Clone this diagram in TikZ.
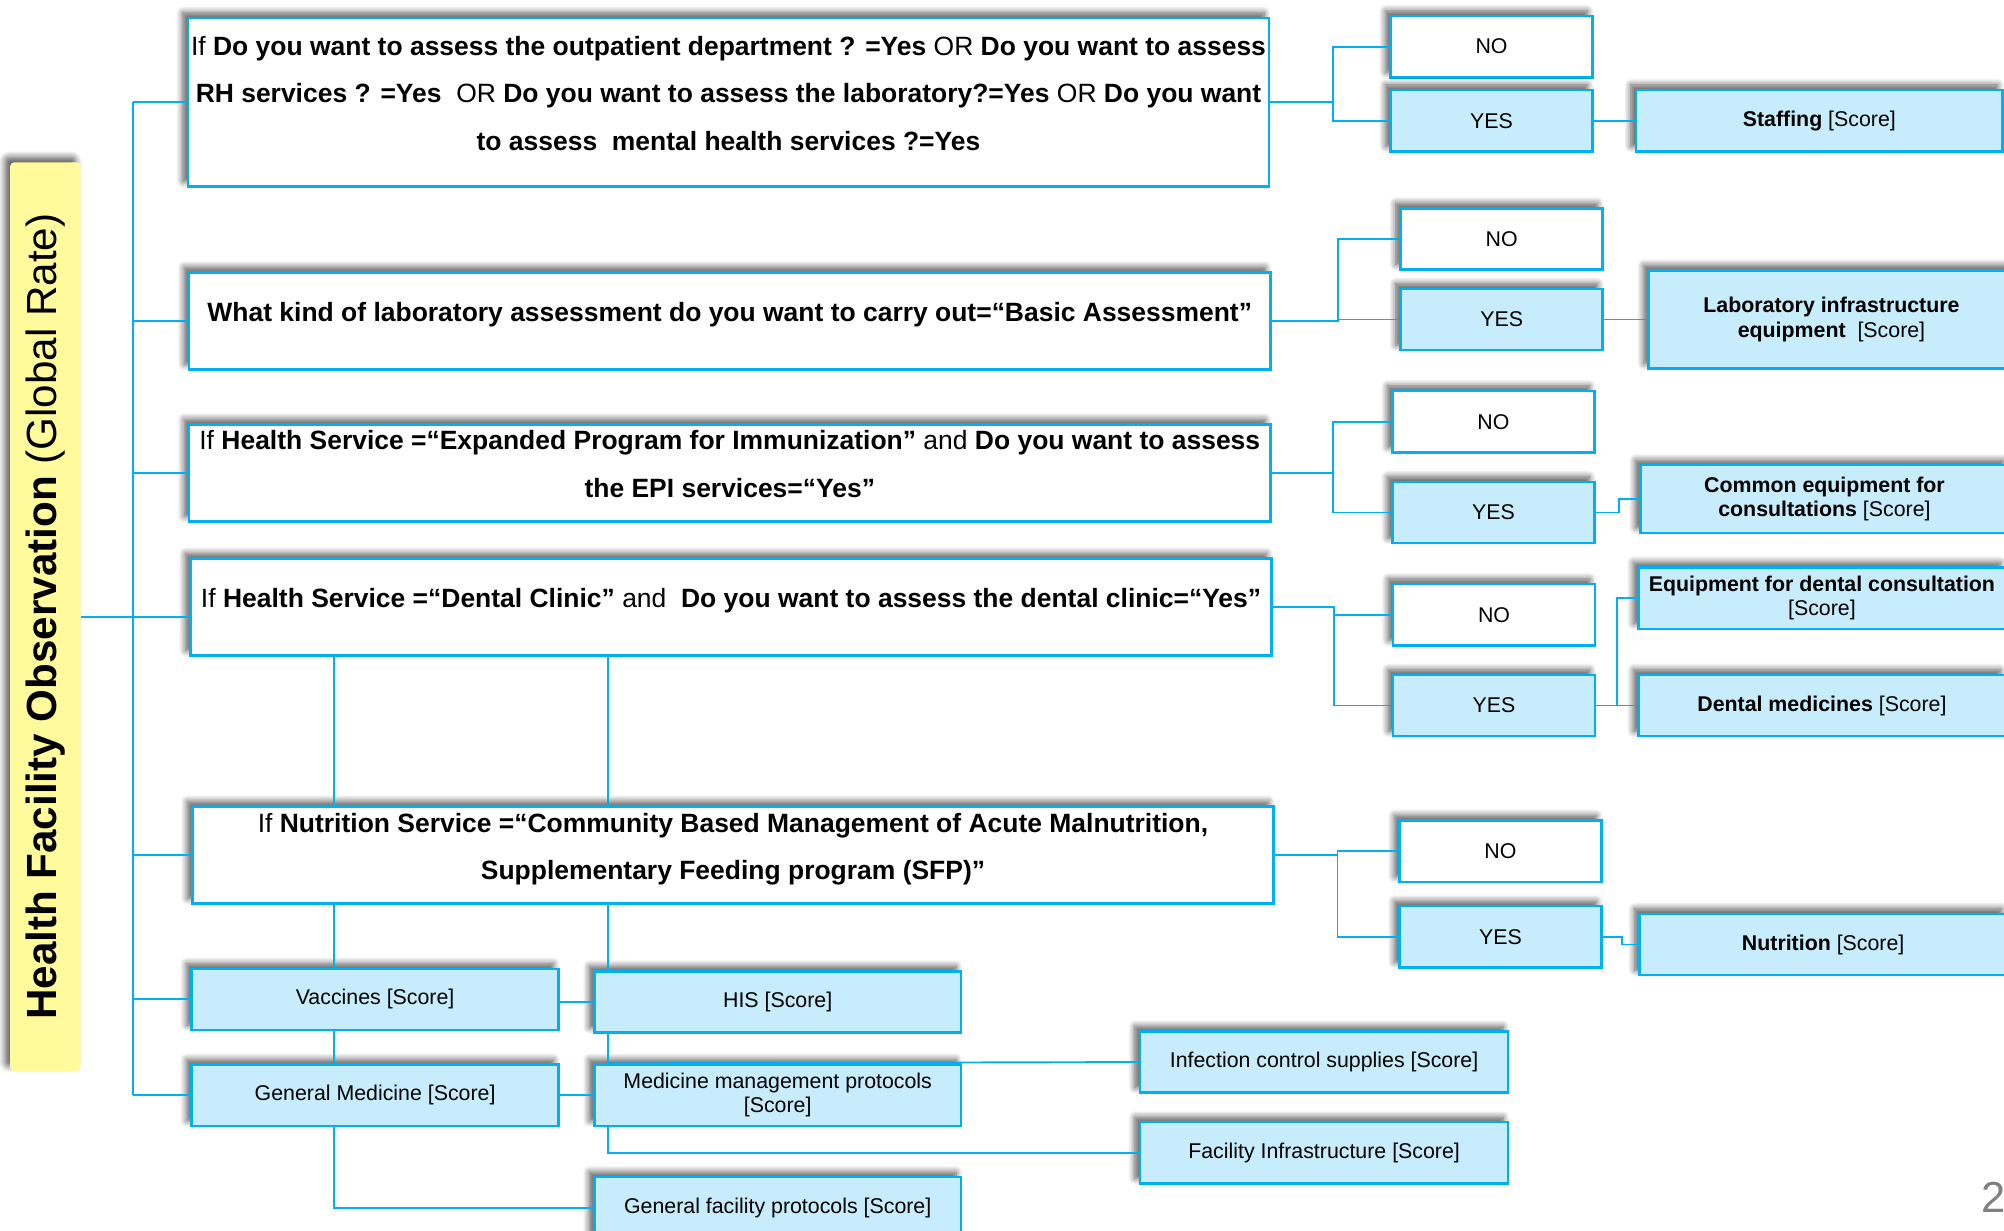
\documentclass[tikz,border=0pt]{standalone}
\usepackage{fontspec}
\setmainfont{Liberation Sans}
\usetikzlibrary{positioning,shadows.blur}

\definecolor{boxblue}{RGB}{0,176,240}
\definecolor{boxfill}{RGB}{199,236,251}
\definecolor{baryellow}{RGB}{255,250,155}
\definecolor{pagegray}{RGB}{128,128,128}

\tikzset{
  boxshadow/.style={blur shadow={shadow xshift=-4pt, shadow yshift=4pt, shadow blur radius=5pt, shadow blur steps=8, shadow opacity=65}},
  bar/.style={fill=baryellow, rounded corners=3pt, boxshadow, minimum width=55pt, minimum height=711pt, inner sep=0pt, font=\fontsize{33pt}{36pt}\selectfont},
  qbox/.style={draw=boxblue, line width=2pt, fill=white, boxshadow, minimum width=846pt, minimum height=76pt, inner sep=0pt, align=center, text depth=14pt, font=\fontsize{20.7pt}{37pt}\selectfont},
  ans/.style={draw=boxblue, line width=2pt, fill=white, boxshadow, minimum width=158pt, minimum height=48pt, inner sep=0pt, font=\fontsize{16.7pt}{19pt}\selectfont},
  yes/.style={ans, fill=boxfill},
  score/.style={yes, minimum width=287pt, align=center},
  link/.style={draw=boxblue, line width=1.5pt},
}

\begin{document}
\begin{tikzpicture}[x=1pt, y=-1pt]
  \useasboundingbox (0,0) rectangle (1568,963);

  % title bar
  \node[bar] (obs) at (35.5,482.5) {\rotatebox{90}{\textbf{Health Facility Observation} (Global Rate)}};

  % questions
  \node[qbox, minimum height=132pt] (q1) at (570,80) {If \textbf{Do you want to assess the outpatient department ? =Yes} OR \textbf{Do you want to assess}\\
    \textbf{RH services ? =Yes}~ OR \textbf{Do you want to assess the laboratory?=Yes} OR \textbf{Do you want}\\
    \textbf{to assess~ mental health services ?=Yes}};
  \node[qbox] (q2) at (571,251) {\textbf{What kind of laboratory assessment do you want to carry out=“Basic Assessment”}};
  \node[qbox] (q3) at (571,370) {If \textbf{Health Service =“Expanded Program for Immunization”} and \textbf{Do you want to assess}\\
    \textbf{the EPI services=“Yes”}};
  \node[qbox] (q4) at (572,475) {If \textbf{Health Service =“Dental Clinic”} and~ \textbf{Do you want to assess the dental clinic=“Yes”}};
  \node[qbox] (q5) at (573.5,669) {If \textbf{Nutrition Service =“Community Based Management of Acute Malnutrition,}\\
    \textbf{Supplementary Feeding program (SFP)”}};

  % answers
  \node[ans] (no1) at (1167,36.5) {NO};
  \node[yes, below=8pt of no1] (yes1) {YES};
  \node[ans] (no2) at (1175,187) {NO};
  \node[yes, below=13pt of no2] (yes2) {YES};
  \node[ans] (no3) at (1168.5,330) {NO};
  \node[yes, below=21pt of no3] (yes3) {YES};
  \node[ans] (no4) at (1169,481) {NO};
  \node[yes, below=21pt of no4] (yes4) {YES};
  \node[ans] (no5) at (1174,666) {NO};
  \node[yes, below=17pt of no5] (yes5) {YES};

  % scores on the right
  \node[score, right=32pt of yes1] (staff) {\textbf{Staffing} [Score]};
  \node[score, minimum width=286pt, minimum height=77pt, right=34pt of yes2] (labeq) {\textbf{Laboratory infrastructure}\\\textbf{equipment}~ [Score]};
  \node[score, minimum width=288pt, minimum height=53pt, right=34pt of yes3, yshift=10.5pt] (commeq) {\textbf{Common equipment for}\\\textbf{consultations} [Score]};
  \node[score, right=32pt of yes4] (dentmed) {\textbf{Dental medicines} [Score]};
  \node[score, above=34pt of dentmed] (denteq) {\textbf{Equipment for dental consultation}\\{}[Score]};
  \node[score, right=28pt of yes5, yshift=-6pt] (nutr) {\textbf{Nutrition} [Score]};

  % scores at the bottom
  \node[score] (vacc) at (293.5,782) {Vaccines [Score]};
  \node[score, right=26pt of vacc, yshift=-2pt] (his) {HIS [Score]};
  \node[score, below=25pt of vacc] (genmed) {General Medicine [Score]};
  \node[score, right=26pt of genmed] (medman) {Medicine management protocols\\{}[Score]};
  \node[score, below=38pt of medman] (genfac) {General facility protocols [Score]};
  \node[score, minimum width=288pt] (infect) at (1036,831) {Infection control supplies [Score]};
  \node[score, minimum width=288pt, below=21pt of infect] (facinf) {Facility Infrastructure [Score]};

  \node[anchor=west, inner sep=0pt, text=pagegray, font=\fontsize{34pt}{34pt}\selectfont] (page) at (1550,937) {2};

  % left trunk
  \coordinate (trunk) at (104,0);
  \draw[link] (q1.west -| trunk) -- (genmed.west -| trunk);
  \draw[link] (obs.east) -- (obs.east -| q4.west);
  \foreach \n in {q1,q2,q3,q5,vacc,genmed}
    \draw[link] (\n.west -| trunk) -- (\n.west);

  % yes / no forks
  \foreach \q/\d in {1/49,2/52,3/48,4/48,5/49}{
    \draw[link] (q\q.east) -- ++(\d,0) |- (no\q.west);
    \draw[link] (q\q.east) -- ++(\d,0) |- (yes\q.west);
  }
  \draw[link] (yes1) -- (staff);
  \draw[link] (yes2.east) -- (yes2.east -| labeq.west);
  \draw[link] (yes3.east) -- ++(18,0) |- (commeq.west);
  \draw[link] (yes4.east) -- ++(16,0) |- (denteq.west);
  \draw[link] (yes4) -- (dentmed);
  \draw[link] (yes5.east) -- ++(15,0) |- (nutr.west);

  % lower columns
  \coordinate (c1) at (261,0);
  \coordinate (c2) at (476,0);
  \draw[link] (q4.south -| c1) -- (q5.north -| c1);
  \draw[link] (q4.south -| c2) -- (q5.north -| c2);
  \draw[link] (q5.south -| c1) -- (vacc.north -| c1);
  \draw[link] (q5.south -| c2) -- (his.north -| c2);
  \draw[link] (vacc.south -| c1) -- (genmed.north -| c1);
  \draw[link] (his.south -| c2) -- (medman.north -| c2);
  \draw[link] (his.west) -- (his.west -| vacc.east);
  \draw[link] (genmed) -- (medman);
  \draw[link] (medman.north -| c2) -- (infect.west);
  \draw[link] (medman.south -| c2) |- (facinf.west);
  \draw[link] (genmed.south -| c1) |- (genfac.west);
\end{tikzpicture}
\end{document}
